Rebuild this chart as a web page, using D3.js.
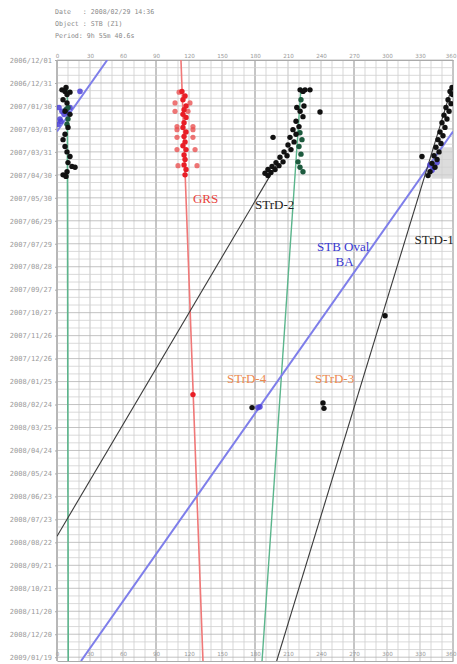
<!DOCTYPE html>
<html>
<head>
<meta charset="utf-8">
<script src="https://cdn.jsdelivr.net/npm/d3@7"></script>
<style>
  html, body { margin: 0; padding: 0; background: #fff; }
  svg { display: block; }
</style>
</head>
<body>
<svg id="chart" width="457" height="664"></svg>
<script>
// ---- header ----
const headerLines = [
  "Date   : 2008/02/29 14:36",
  "Object : STB (Z1)",
  "Period: 9h 55m 40.6s"
];

// ---- axis ticks ----
const lonTicks = [0, 30, 60, 90, 120, 150, 180, 210, 240, 270, 300, 330, 360];
const dateTickLabels = [
  "2006/12/01", "2006/12/31", "2007/01/30", "2007/03/01", "2007/03/31", "2007/04/30",
  "2007/05/30", "2007/06/29", "2007/07/29", "2007/08/28", "2007/09/27", "2007/10/27",
  "2007/11/26", "2007/12/26", "2008/01/25", "2008/02/24", "2008/03/25", "2008/04/24",
  "2008/05/24", "2008/06/23", "2008/07/23", "2008/08/22", "2008/09/21", "2008/10/21",
  "2008/11/20", "2008/12/20", "2009/01/19"
];
const chartStart = "2006-12-01";
const chartEnd = "2009-01-24";

// ---- observations: [date, longitude (System II)] ----
const blackObs = [
  // 0-20 deg column
  ["2007-01-06", 8.2], ["2007-01-09", 4.5], ["2007-01-11", 7.3], ["2007-01-12", 11.8],
  ["2007-01-15", 9.1], ["2007-01-22", 5.5], ["2007-01-26", 9.1], ["2007-02-06", 7.3],
  ["2007-02-10", 11.8], ["2007-02-27", 10.0], ["2007-03-08", 7.3], ["2007-03-15", 5.5],
  ["2007-03-24", 7.3], ["2007-03-31", 9.1], ["2007-04-06", 11.8], ["2007-04-14", 10.0],
  ["2007-04-19", 13.6], ["2007-04-20", 16.4], ["2007-04-26", 9.1], ["2007-04-30", 5.5],
  ["2007-05-02", 8.2],
  // STrD-2 group
  ["2007-01-09", 221.0], ["2007-01-09", 225.5], ["2007-01-09", 230.0], ["2007-01-11", 223.6],
  ["2007-02-01", 218.0], ["2007-02-06", 221.0], ["2007-02-13", 223.6], ["2007-02-19", 217.3],
  ["2007-02-26", 220.0], ["2007-02-07", 239.1], ["2007-01-30", 224.5],
  ["2007-03-02", 214.5], ["2007-03-08", 217.3], ["2007-03-12", 211.8], ["2007-03-18", 215.5],
  ["2007-03-22", 210.0], ["2007-03-28", 212.7], ["2007-03-31", 206.4], ["2007-04-05", 209.1],
  ["2007-04-07", 202.7], ["2007-04-13", 205.5], ["2007-04-14", 199.1], ["2007-04-18", 201.8],
  ["2007-04-19", 195.5], ["2007-04-23", 198.2], ["2007-04-23", 191.8], ["2007-04-27", 194.5],
  ["2007-04-28", 189.1], ["2007-05-01", 191.8], ["2007-03-12", 196.4],
  // STrD-1 group
  ["2007-01-06", 359.1], ["2007-01-11", 357.3], ["2007-01-15", 359.5], ["2007-01-22", 355.5],
  ["2007-01-27", 358.2], ["2007-02-01", 353.6], ["2007-02-06", 356.4], ["2007-02-11", 351.8],
  ["2007-02-16", 354.5], ["2007-02-21", 350.0], ["2007-02-27", 352.7], ["2007-03-05", 348.2],
  ["2007-03-10", 350.9], ["2007-03-15", 346.4], ["2007-03-20", 349.1], ["2007-03-25", 344.5],
  ["2007-03-31", 347.3], ["2007-04-05", 342.7], ["2007-04-10", 345.5], ["2007-04-15", 340.9],
  ["2007-04-20", 343.6], ["2007-04-26", 339.1], ["2007-05-01", 337.3], ["2007-04-06", 331.8],
  // later single measurements
  ["2007-10-31", 298.2], ["2008-02-28", 177.3], ["2008-02-22", 241.8], ["2008-02-29", 242.7]
];
const greenObs = [
  ["2007-02-01", 10.0], ["2007-02-16", 10.0], ["2007-02-23", 9.1], ["2007-02-04", 8.2],
  ["2007-01-22", 221.8], ["2007-03-06", 220.9], ["2007-03-15", 222.7], ["2007-03-24", 220.0],
  ["2007-04-03", 221.8], ["2007-04-13", 219.1], ["2007-04-20", 220.9], ["2007-04-26", 223.6]
];
const redObs = [
  ["2007-01-11", 113.6], ["2007-01-17", 116.4], ["2007-01-22", 114.5], ["2007-01-30", 117.3],
  ["2007-02-04", 115.5], ["2007-02-10", 114.5], ["2007-02-14", 117.3], ["2007-02-21", 115.5],
  ["2007-02-27", 114.5], ["2007-03-05", 117.3], ["2007-03-11", 115.5], ["2007-03-18", 116.4],
  ["2007-03-23", 114.5], ["2007-03-28", 117.3], ["2007-04-04", 115.5], ["2007-04-10", 116.4],
  ["2007-04-17", 115.5], ["2007-04-23", 117.3], ["2007-04-30", 116.4],
  ["2008-02-11", 123.6]
];
// preceding / following ends of the GRS
const redEdgeObs = [
  ["2007-01-12", 111.0],
  ["2007-01-26", 107.3], ["2007-01-26", 120.9], ["2007-02-06", 107.3], ["2007-02-06", 119.1],
  ["2007-02-26", 109.1], ["2007-02-26", 123.6], ["2007-03-02", 109.1], ["2007-03-02", 123.6],
  ["2007-03-12", 109.1], ["2007-03-12", 123.6], ["2007-03-28", 109.1], ["2007-03-28", 125.5],
  ["2007-04-18", 110.0], ["2007-04-18", 127.3]
];
const blueObs = [
  ["2007-01-11", 20.9], ["2007-02-01", 1.8], ["2007-02-06", 4.5], ["2007-02-04", 8.2],
  ["2007-02-16", 2.7], ["2007-02-10", 6.4], ["2007-02-01", 11.8], ["2007-02-23", 0.9],
  ["2007-02-19", 3.6], ["2007-02-08", 10.0],
  ["2007-04-17", 339.1], ["2007-04-20", 342.7], ["2007-04-14", 345.5], ["2007-04-24", 340.9],
  ["2008-02-28", 182.7], ["2008-02-27", 184.5]
];

// ---- drift lines: start and end [date, longitude]; longitudes may run past 360 and wrap ----
const tracks = [
  { name: "GRS",    from: ["2006-12-01", 112.7], to: ["2009-01-24", 132.7] },
  { name: "green1", from: ["2007-01-06", 9.4],   to: ["2009-01-24", 10.2] },
  { name: "green2", from: ["2007-01-06", 221.8], to: ["2009-01-24", 186.4] },
  { name: "BA",     from: ["2006-12-01", 405.7], to: ["2009-01-24", 21.8] },
  { name: "STrD-2", from: ["2007-04-17", 199.5], to: ["2008-08-14", 0.0] },
  { name: "STrD-1", from: ["2007-01-10", 358.0], to: ["2009-01-24", 199.7] }
];

// ---- annotations: text, [date, longitude] of the text start ----
const trackLabels = [
  { text: "GRS",      at: ["2007-06-06", 123.6], kind: "GRS" },
  { text: "STrD-2",   at: ["2007-06-13", 180.0], kind: "black" },
  { text: "STB Oval", at: ["2007-08-07", 236.4], kind: "BA" },
  { text: "BA",       at: ["2007-08-27", 253.2], kind: "BA" },
  { text: "STrD-1",   at: ["2007-07-29", 325.0], kind: "black" },
  { text: "STrD-4",   at: ["2008-01-27", 154.5], kind: "orange" },
  { text: "STrD-3",   at: ["2008-01-27", 234.5], kind: "orange" }
];

// ---- styles ----
const trackStyle = {
  "GRS":    { stroke: "#f07878", width: 1.6 },
  "green1": { stroke: "#5bb58c", width: 1.6 },
  "green2": { stroke: "#5bb58c", width: 1.4 },
  "BA":     { stroke: "#7e7eea", width: 2.0 },
  "STrD-2": { stroke: "#3a3a3a", width: 1.1 },
  "STrD-1": { stroke: "#3a3a3a", width: 1.1 }
};
const labelColor = { GRS: "#e8433c", black: "#222", BA: "#3838d0", orange: "#ec8a50" };

// ---- scales ----
const parseDay = d3.utcParse("%Y-%m-%d");
const parseTick = d3.utcParse("%Y/%m/%d");
const x = d3.scaleLinear().domain([0, 360]).range([57, 453]);
const y = d3.scaleUtc()
  .domain([parseTick(dateTickLabels[0]), parseTick(dateTickLabels[dateTickLabels.length - 1])])
  .range([60, 657.2]);

const svg = d3.select("#chart");
const plotTop = y(parseDay(chartStart));
const plotBottom = y(parseDay(chartEnd));

// header block
svg.append("g")
  .attr("font-family", "DejaVu Sans Mono, monospace")
  .attr("font-size", 6.6)
  .attr("fill", "#8a8a8a")
  .selectAll("text").data(headerLines).join("text")
  .attr("x", 55).attr("y", (d, i) => 14 + i * 12)
  .style("white-space", "pre")
  .text(d => d);

// grid
const grid = svg.append("g");
const lonGrid = d3.range(0, 361, 10);
grid.selectAll("line.v").data(lonGrid).join("line")
  .attr("x1", d => x(d)).attr("x2", d => x(d))
  .attr("y1", plotTop).attr("y2", plotBottom)
  .attr("stroke", d => d % 90 === 0 ? "#8c8c8c" : d % 30 === 0 ? "#b4b4b4" : "#cdcdcd")
  .attr("stroke-width", d => d % 90 === 0 ? 1 : 0.8);
const dayGrid = d3.utcDay.range(parseDay(chartStart), d3.utcDay.offset(parseDay(chartEnd), 1), 1)
  .filter((d, i) => i % 10 === 0);
grid.selectAll("line.h").data(dayGrid).join("line")
  .attr("x1", x(0)).attr("x2", x(360))
  .attr("y1", d => y(d)).attr("y2", d => y(d))
  .attr("stroke", (d, i) => i % 3 === 0 ? "#b4b4b4" : "#d0d0d0")
  .attr("stroke-width", 0.8);

// shaded strip beside the STrD-1 group
svg.append("rect")
  .attr("x", x(341)).attr("width", x(360) - x(341))
  .attr("y", y(parseDay("2007-03-25")))
  .attr("height", y(parseDay("2007-05-05")) - y(parseDay("2007-03-25")))
  .attr("fill", "#d0d0d0").attr("opacity", 0.75);

// axes
const axisFont = g => g.selectAll("text")
  .attr("font-family", "DejaVu Sans, sans-serif").attr("font-size", 5.6).attr("fill", "#999");
svg.append("g").attr("transform", `translate(0,${plotTop})`)
  .call(d3.axisTop(x).tickValues(lonTicks).tickSize(0).tickPadding(2).tickFormat(d3.format("d")))
  .call(g => g.select(".domain").attr("stroke", "#aaa"))
  .call(axisFont)
  .call(g => g.selectAll(".tick:last-of-type text").attr("text-anchor", "end").attr("dx", "3"));
// lower longitude scale sits on the bottom edge of the plot
svg.append("g").attr("transform", `translate(0,${plotBottom})`)
  .call(d3.axisBottom(x).tickValues(lonTicks).tickSize(0).tickPadding(-6).tickFormat(d3.format("d")))
  .call(g => g.select(".domain").attr("stroke", "#aaa"))
  .call(axisFont)
  .call(g => g.selectAll("text").attr("dy", "0.2em"))
  .call(g => g.selectAll(".tick:last-of-type text").attr("text-anchor", "end").attr("dx", "3"));
svg.append("g").attr("transform", `translate(${x(0)},0)`)
  .call(d3.axisLeft(y).tickValues(dateTickLabels.map(parseTick)).tickSize(2).tickPadding(3)
    .tickFormat(d3.utcFormat("%Y/%m/%d")))
  .call(g => g.select(".domain").attr("stroke", "#aaa").attr("d", `M0,${plotTop}V${plotBottom}`))
  .call(g => g.selectAll(".tick line").attr("stroke", "#aaa"))
  .call(g => g.selectAll("text").attr("font-family", "DejaVu Sans Mono, monospace")
    .attr("font-size", 7).attr("fill", "#9a9a9a"));

// clip to plot
svg.append("clipPath").attr("id", "plot")
  .append("rect").attr("x", x(0)).attr("y", plotTop)
  .attr("width", x(360) - x(0)).attr("height", plotBottom - plotTop);
const plot = svg.append("g").attr("clip-path", "url(#plot)");

// drift lines, split where they wrap across 0/360
function wrappedSegments(t) {
  const d1 = parseDay(t.from[0]), d2 = parseDay(t.to[0]);
  const l1 = t.from[1], l2 = t.to[1];
  const at = lon => new Date(+d1 + (+d2 - +d1) * (lon - l1) / (l2 - l1));
  const lo = Math.min(l1, l2), hi = Math.max(l1, l2);
  const segs = [];
  for (let k = Math.floor(lo / 360); k <= Math.floor((hi - 1e-9) / 360); k++) {
    const a = Math.max(lo, k * 360), b = Math.min(hi, (k + 1) * 360);
    const pa = (l1 === l2) ? d1 : at(a), pb = (l1 === l2) ? d2 : at(b);
    segs.push([[pa, a - k * 360], [pb, b - k * 360]]);
  }
  return segs;
}
const line = d3.line().x(p => x(p[1])).y(p => y(p[0]));
tracks.forEach(t => {
  plot.append("g").selectAll("path").data(wrappedSegments(t)).join("path")
    .attr("d", line)
    .attr("fill", "none")
    .attr("stroke", trackStyle[t.name].stroke)
    .attr("stroke-width", trackStyle[t.name].width);
});

// observations
function dots(data, fill, r, opacity) {
  plot.append("g").selectAll("circle").data(data).join("circle")
    .attr("cx", d => x(d[1])).attr("cy", d => y(parseDay(d[0])))
    .attr("r", r).attr("fill", fill).attr("fill-opacity", opacity);
}
dots(redEdgeObs, "#ea5252", 2.6, 0.8);
dots(redObs, "#e81e26", 2.7, 1);
dots(blueObs, "#4a3fd6", 2.8, 0.85);
dots(greenObs, "#1d5a3e", 2.7, 1);
dots(blackObs, "#111", 2.7, 1);

// labels
svg.append("g")
  .attr("font-family", "Liberation Serif, Times New Roman, serif")
  .attr("font-size", 13)
  .selectAll("text").data(trackLabels).join("text")
  .attr("x", d => x(d.at[1])).attr("y", d => y(parseDay(d.at[0])))
  .attr("fill", d => labelColor[d.kind])
  .text(d => d.text);
</script>
</body>
</html>
